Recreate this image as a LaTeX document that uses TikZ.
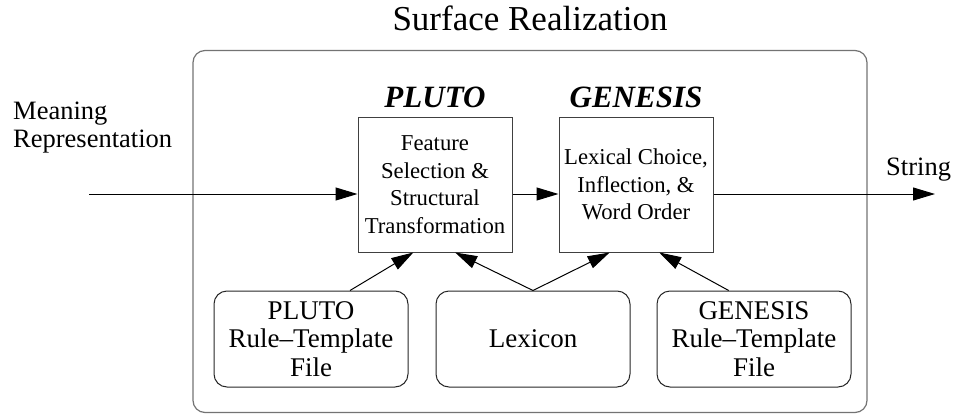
\documentclass[tikz,border=0pt]{standalone}
\usepackage{fontspec}
\setmainfont{Liberation Serif}
\usetikzlibrary{arrows.meta,calc}
\begin{document}
\begin{tikzpicture}[x=1pt,y=-1pt,
  proc/.style={draw=black!75,line width=1pt,minimum width=154pt,minimum height=135pt,inner sep=0pt,align=center,font=\fontsize{22.7}{27.5}\selectfont},
  res/.style={draw=black!85,line width=1pt,rounded corners=13pt,minimum width=194pt,minimum height=96pt,inner sep=0pt,align=center,font=\fontsize{27}{28.5}\selectfont},
  lbl/.style={inner sep=0pt,font=\fontsize{26.5}{28}\selectfont},
  hdr/.style={inner sep=0pt,font=\fontsize{31}{34}\selectfont\bfseries\itshape},
  arr/.style={line width=1pt,-{Triangle[length=22pt,width=13pt]}}]
\useasboundingbox (0,0) rectangle (953,415);
% outer frame
\node[draw=black!55,line width=1.2pt,rounded corners=12pt,minimum width=674pt,minimum height=362pt,inner sep=0pt] (frame) at (530,231.5) {};
\node[inner sep=0pt,font=\fontsize{35}{40}\selectfont,anchor=base] (title) at (530,30) {Surface Realization};
% processing boxes
\node[proc] (pluto) at (435,184.5) {Feature\\Selection \&\\Structural\\Transformation};
\node[proc] (genesis) at (636,184.5) {Lexical Choice,\\Inflection, \&\\Word Order};
\node[hdr,anchor=base] (plutoh) at (435,107) {PLUTO};
\node[hdr,anchor=base] (genh) at (636,107) {GENESIS};
% resource boxes
\node[res] (pf) at (311,339) {PLUTO\\Rule--Template\\File};
\node[res] (lex) at (533,339) {Lexicon};
\node[res] (gf) at (754,339) {GENESIS\\Rule--Template\\File};
% outside labels
\node[lbl,anchor=base west,align=left] (mr) at (13,147) {Meaning\\Representation};
\node[lbl,anchor=base west] (str) at (886,175) {String};
\coordinate (in) at (89,194);
\coordinate (out) at (935,194);
% main arrows
\draw[arr] (in) -- (pluto.west |- in);
\draw[arr] (pluto.east |- in) -- (genesis.west |- in);
\draw[arr] (genesis.east |- in) -- (out);
% resource arrows
\coordinate (pfs) at ($(pf.north west)!0.70!(pf.north east)$);
\coordinate (lexs) at (lex.north);
\coordinate (gfs) at ($(gf.north west)!0.37!(gf.north east)$);
\coordinate (pe1) at ($(pluto.south west)!0.36!(pluto.south east)$);
\coordinate (pe2) at ($(pluto.south west)!0.63!(pluto.south east)$);
\coordinate (ge1) at ($(genesis.south west)!0.33!(genesis.south east)$);
\coordinate (ge2) at ($(genesis.south west)!0.65!(genesis.south east)$);
\draw[arr] (pfs) -- (pe1);
\draw[arr] (lexs) -- (pe2);
\draw[arr] (lexs) -- (ge1);
\draw[arr] (gfs) -- (ge2);
\end{tikzpicture}
\end{document}
